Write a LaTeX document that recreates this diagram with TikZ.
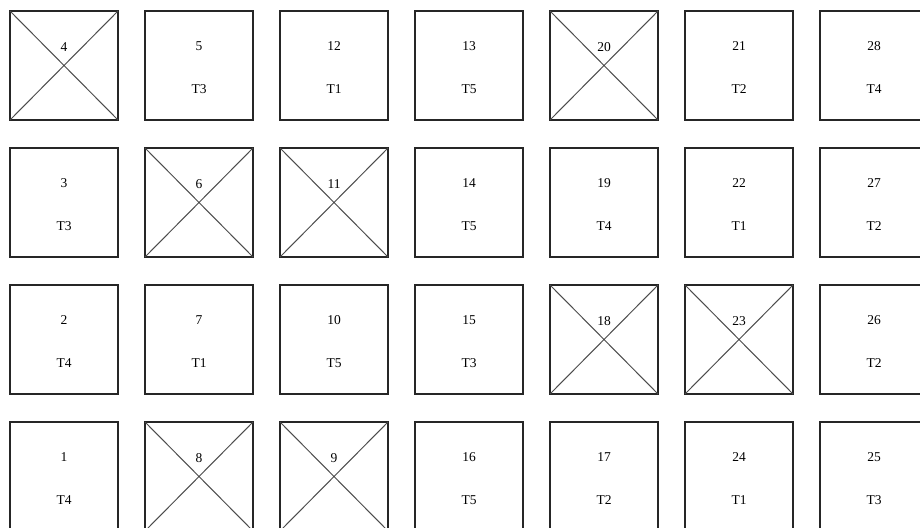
\documentclass[tikz,border=0pt]{standalone}
\usepackage{fontspec}
\setmainfont{Liberation Serif}
\usepackage{tikz}

\begin{document}
\begin{tikzpicture}[x=1pt, y=1pt,
    slot/.style={draw=black!85, line width=1.3pt, minimum width=108pt,
      minimum height=109pt, inner sep=0pt, outer sep=0pt},
    cross/.style={draw=black!70, line width=1pt},
    num/.style={font=\fontsize{13.5}{15}\selectfont, inner sep=0pt}]
    \useasboundingbox (0,0) rectangle (920,-527);

    % Các ô có số và nhãn (hàng/cột/số/nhãn)
    \foreach \r/\c/\n/\t in {1/2/5/T3, 1/3/12/T1, 1/4/13/T5, 1/6/21/T2, 1/7/28/T4,
        2/1/3/T3, 2/4/14/T5, 2/5/19/T4, 2/6/22/T1, 2/7/27/T2,
        3/1/2/T4, 3/2/7/T1, 3/3/10/T5, 3/4/15/T3, 3/7/26/T2,
        4/1/1/T4, 4/4/16/T5, 4/5/17/T2, 4/6/24/T1, 4/7/25/T3} {
      \node[slot] (s\n) at ({64+135*(\c-1)}, {-65.5-137*(\r-1)}) {};
      \node[num] (n\n) at ([yshift=19pt]s\n.center) {\n};
      \node[num] (t\n) at ([yshift=-24pt]s\n.center) {\t};
    }

    % Các ô bị gạch chéo
    \foreach \r/\c/\n in {1/1/4, 1/5/20, 2/2/6, 2/3/11, 3/5/18, 3/6/23, 4/2/8, 4/3/9} {
      \node[slot] (s\n) at ({64+135*(\c-1)}, {-65.5-137*(\r-1)}) {};
      \draw[cross] (s\n.north west) -- (s\n.south east)
                   (s\n.north east) -- (s\n.south west);
      \node[num] (n\n) at ([yshift=18pt]s\n.center) {\n};
    }
\end{tikzpicture}
\end{document}
